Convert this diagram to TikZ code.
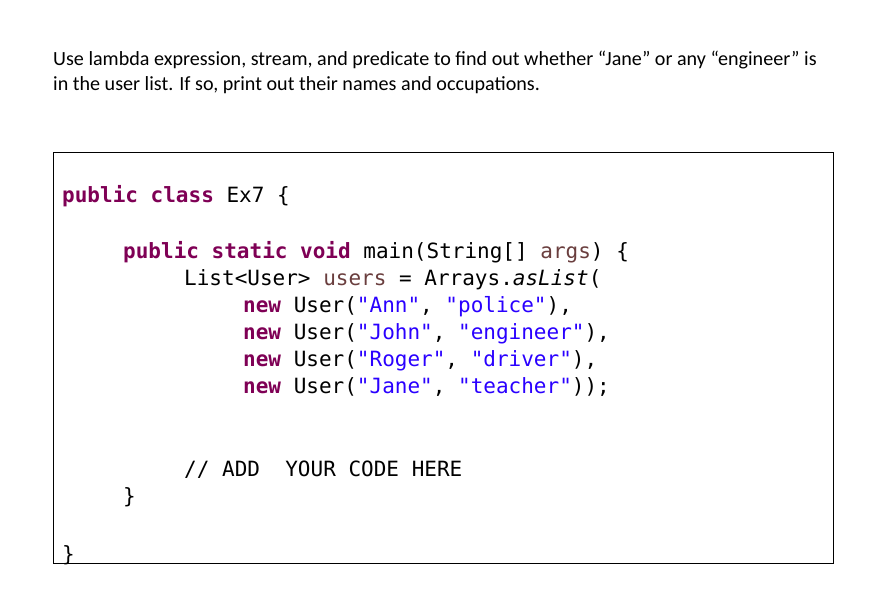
\documentclass[tikz,border=0pt]{standalone}
\usepackage{fontspec}
\setmainfont{Carlito}
\newfontfamily\codefont{DejaVu Sans Mono}
\definecolor{kw}{HTML}{7F0055}
\definecolor{var}{HTML}{6A3E3E}
\definecolor{str}{HTML}{2A00FF}
\newcommand{\K}[1]{\textcolor{kw}{\textbf{#1}}}
\newcommand{\V}[1]{\textcolor{var}{#1}}
\newcommand{\St}[1]{\textcolor{str}{#1}}
\begin{document}
\begin{tikzpicture}[x=1pt,y=-1pt,
  txt/.style={anchor=base west,inner sep=0pt,font=\fontsize{20.1}{24}\selectfont},
  code/.style={anchor=base west,inner sep=0pt,font=\codefont\fontsize{21}{24}\selectfont}]
\useasboundingbox (0,0) rectangle (876,595);
\fill[white] (0,0) rectangle (876,595);
\node[txt] (t1) at (53,65) {Use lambda expression, stream, and predicate to find out whether “Jane” or any “engineer” is};
\node[txt] (t2) at (53,90) {in the user list. If so, print out their names and occupations.};
\draw[line width=0.8pt] (53,152) rectangle (833,563);
\node[code] (c1) at (62,202) {\K{public} \K{class} Ex7 \{};
\node[code] (c2) at (123,258) {\K{public} \K{static} \K{void} main(String[] \V{args}) \{};
\node[code] (c3) at (184,285) {List<User> \V{users} = Arrays.\textit{asList}(};
\node[code] (c4) at (243,312) {\K{new} User(\St{"Ann"}, \St{"police"}),};
\node[code] (c5) at (243,339) {\K{new} User(\St{"John"}, \St{"engineer"}),};
\node[code] (c6) at (243,366) {\K{new} User(\St{"Roger"}, \St{"driver"}),};
\node[code] (c7) at (243,393) {\K{new} User(\St{"Jane"}, \St{"teacher"}));};
\node[code] (c8) at (184,476) {// ADD~~YOUR CODE HERE};
\node[code] (c9) at (123,503) {\}};
\node[code] (c10) at (62,561) {\}};
\end{tikzpicture}
\end{document}
